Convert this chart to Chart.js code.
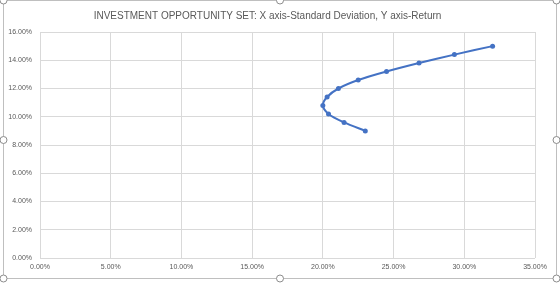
<!DOCTYPE html>
<html>
<head>
<meta charset="utf-8">
<script src="https://cdn.jsdelivr.net/npm/chart.js@4/dist/chart.umd.min.js"></script>
<style>
  html, body { margin: 0; padding: 0; background: #fff; }
  canvas { display: block; }
</style>
</head>
<body>
<canvas id="grafica" width="560" height="283"></canvas>
<script>
// datos (en %)
const desviaciones = [23.0, 21.5, 20.4, 20.0, 20.3, 21.1, 22.5, 24.5, 26.8, 29.3, 32.0];
const rendimientos = [9.0, 9.6, 10.2, 10.8, 11.4, 12.0, 12.6, 13.2, 13.8, 14.4, 15.0];
const ticksX = [0, 5, 10, 15, 20, 25, 30, 35];
const ticksY = [0, 2, 4, 6, 8, 10, 12, 14, 16];
const titulo = 'INVESTMENT OPPORTUNITY SET: X axis-Standard Deviation, Y axis-Return';

const puntos = desviaciones.map((x, i) => ({ x: x, y: rendimientos[i] }));

// marco del area del grafico con los tiradores de seleccion
const marco = {
    id: 'marco',
    afterDraw(chart) {
        const c = chart.ctx;
        c.save();
        c.strokeStyle = '#bfbfbf';
        c.lineWidth = 1;
        c.strokeRect(3.5, 0.5, 553, 278);
        const tiradores = [[3.5, 0.5], [280, 0.5], [556.5, 0.5], [3.5, 140], [556.5, 140], [3.5, 278.5], [280, 278.5], [556.5, 278.5]];
        tiradores.forEach(([x, y]) => {
            c.beginPath();
            c.arc(x, y, 3.5, 0, Math.PI * 2);
            c.fillStyle = '#fff';
            c.fill();
            c.strokeStyle = '#8c8c8c';
            c.stroke();
        });
        c.restore();
    }
};

const ctx = document.getElementById('grafica').getContext('2d');
new Chart(ctx, {
    type: 'scatter',
    data: {
        datasets: [{
            data: puntos,
            showLine: true,
            borderColor: '#4472C4',
            backgroundColor: '#4472C4',
            borderWidth: 2,
            pointRadius: 2.5,
            pointBorderWidth: 0,
            tension: 0.3
        }]
    },
    options: {
        responsive: false,
        animation: false,
        layout: { padding: { left: 0, right: 25, top: 0, bottom: 3 } },
        scales: {
            x: {
                type: 'linear',
                min: 0,
                max: 35,
                afterBuildTicks: (eje) => { eje.ticks = ticksX.map(v => ({ value: v })); },
                afterFit: (eje) => { eje.height = 22; },
                grid: { color: '#d9d9d9', drawTicks: false },
                border: { display: false },
                ticks: {
                    color: '#595959',
                    font: { family: 'Liberation Sans', size: 7 },
                    padding: 5,
                    maxRotation: 0,
                    callback: (v) => v.toFixed(2) + '%'
                }
            },
            y: {
                type: 'linear',
                min: 0,
                max: 16,
                afterBuildTicks: (eje) => { eje.ticks = ticksY.map(v => ({ value: v })); },
                afterFit: (eje) => { eje.width = 40; },
                grid: { color: '#d9d9d9', drawTicks: false },
                border: { display: false },
                ticks: {
                    color: '#595959',
                    font: { family: 'Liberation Sans', size: 7 },
                    padding: 8,
                    callback: (v) => v.toFixed(2) + '%'
                }
            }
        },
        plugins: {
            legend: { display: false },
            tooltip: { enabled: false },
            title: {
                display: true,
                text: titulo,
                color: '#595959',
                font: { family: 'Liberation Sans', size: 10, weight: 'normal', lineHeight: 1.2 },
                padding: { top: 10, bottom: 10 }
            }
        }
    },
    plugins: [marco]
});
</script>
</body>
</html>
